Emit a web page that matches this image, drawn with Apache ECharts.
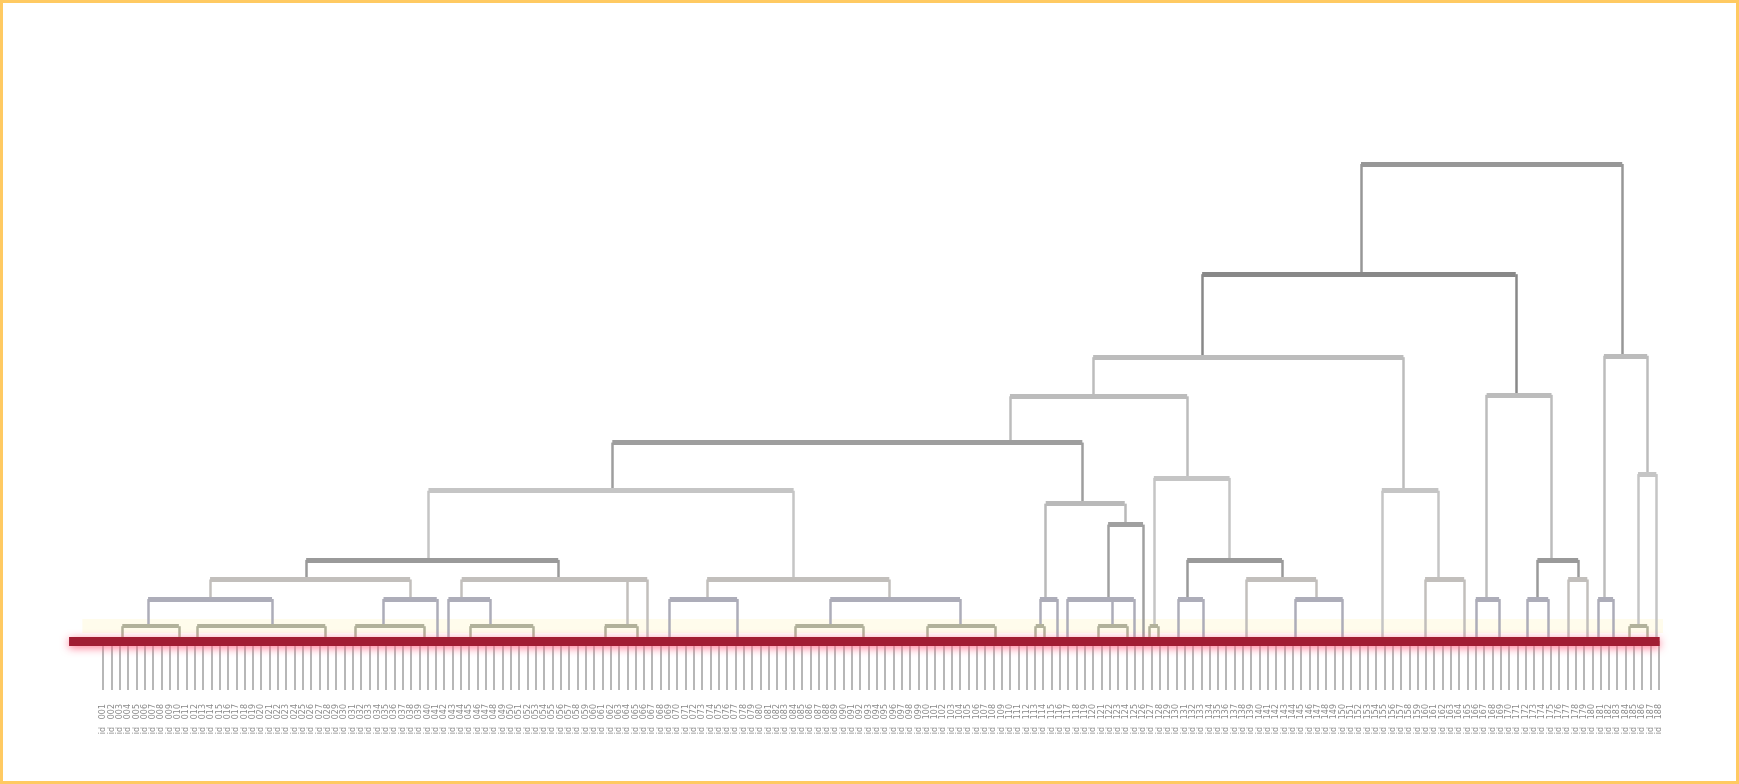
<!DOCTYPE html>
<html>
<head>
<meta charset="utf-8">
<script src="https://cdn.jsdelivr.net/npm/echarts@6/dist/echarts.min.js"></script>
<style>
html, body { margin: 0; padding: 0; background: #ffffff; }
#chart { position: absolute; left: 0; top: 0; width: 1739px; height: 784px; }
#frame { position: absolute; left: 0; top: 0; width: 1739px; height: 784px; box-sizing: border-box; border: 3px solid #FFCA62; pointer-events: none; }
</style>
</head>
<body>
<div id="chart"></div>
<div id="frame"></div>
<script>
// ---- DATA -------------------------------------------------------------
// Leaf labels, left to right (188 leaves)
const leafLabels = ('001 002 003 004 005 006 007 008 009 010 011 012 013 014 015 016 017 018 019 020 ' +
  '021 022 023 024 025 026 027 028 029 030 031 032 033 034 035 036 037 038 039 040 ' +
  '041 042 043 044 045 046 047 048 049 050 051 052 053 054 055 056 057 058 059 060 ' +
  '061 062 063 064 065 066 067 068 069 070 071 072 073 074 075 076 077 078 079 080 ' +
  '081 082 083 084 085 086 087 088 089 090 091 092 093 094 095 096 097 098 099 100 ' +
  '101 102 103 104 105 106 107 108 109 110 111 112 113 114 115 116 117 118 119 120 ' +
  '121 122 123 124 125 126 127 128 129 130 131 132 133 134 135 136 137 138 139 140 ' +
  '141 142 143 144 145 146 147 148 149 150 151 152 153 154 155 156 157 158 159 160 ' +
  '161 162 163 164 165 166 167 168 169 170 171 172 173 174 175 176 177 178 179 180 ' +
  '181 182 183 184 185 186 187 188').split(' ');

// Cut / baseline height of the dendrogram
const baselineHeight = 0;

// Dendrogram: [position along leaf axis (leaf index units), merge height, ...children]
// a child is either a sub-cluster (array) or a number = a cluster leg that reaches the baseline at that position
const dendrogram =
[166.9, 10.0,
  [151.2, 7.69,
    [132.1, 5.95,
      [119.0, 5.13,
        [109.0, 4.16,
          [61.2, 3.15,
            [39.1, 1.70,
              [24.4, 1.29,
                [12.85, 0.88,
                  [5.4, 0.31, 2.3, 9.1],
                  [20.3, 0.31, 11.3, 26.7]],
                [36.9, 0.88,
                  [33.7, 0.31, 30.3, 38.6],
                  40.1]],
              [54.7, 1.29,
                [43.1, 0.88, 41.5, [46.5, 0.31, 44.1, 51.7]],
                [63.0, 0.31, 60.3, 64.2],
                65.4]],
            [83.0, 1.29,
              [72.6, 0.88, 68.1, 76.2],
              [94.5, 0.88,
                [87.4, 0.31, 83.2, 91.4],
                [103.0, 0.31, 99.1, 107.2]]]],
          [117.7, 2.88,
            [113.3, 0.88, [112.6, 0.31, 112.1, 113.1], 114.7],
            [122.8, 2.44,
              [120.8, 0.88, 115.9, [121.3, 0.31, 119.6, 123.1], 123.9],
              125.0]]],
        [130.3, 3.42,
          [126.3, 0.31, 125.8, 126.8],
          [135.4, 1.70,
            [130.3, 0.88, 129.2, 132.2],
            [141.7, 1.29, 137.4, [145.8, 0.88, 143.3, 149.0]]]]],
      [156.3, 3.15,
        153.7,
        [160.5, 1.29, 158.9, 163.6]]],
    [169.8, 5.16,
      [166.3, 0.88, 165.0, 167.8],
      [174.1, 1.70,
        [172.4, 0.88, 171.2, 173.7],
        [177.3, 1.29, 176.1, 178.4]]]],
  [182.6, 5.98,
    [180.4, 0.88, 179.7, 181.5],
    [185.6, 3.50, [184.5, 0.31, 183.5, 185.6], 186.7]]];

// ---- STYLE ------------------------------------------------------------
function levelColor(h) {
  if (h >= 9) return '#979797';
  if (h >= 7) return '#888888';
  if (h >= 4.8) return '#bcbcbc';
  if (h >= 4) return '#9e9e9e';
  if (h >= 3.0) return '#c5c5c5';
  if (h >= 2.7) return '#b9b9b9';
  if (h >= 2.2) return '#a0a0a0';
  if (h >= 1.5) return '#9a9a9a';
  if (h >= 1.1) return '#c2bfbc';
  if (h >= 0.6) return '#adadb9';
  return '#b2b29b';
}
function barWidth(h) { return h >= 0.6 ? 5 : 4; }

// ---- BUILD SEGMENTS (data space) ---------------------------------------
const segments = [];
function collect(node) {
  const x = node[0], h = node[1], kids = node.slice(2);
  const pos = kids.map(k => Array.isArray(k) ? { x: k[0], h: k[1] } : { x: k, h: baselineHeight });
  const xs = pos.map(p => p.x);
  const c = levelColor(h);
  pos.forEach(p => segments.push({ coords: [[p.x, h], [p.x, p.h]], lineStyle: { color: c, width: 2.5 } }));
  segments.push({ coords: [[Math.min.apply(null, xs), h], [Math.max.apply(null, xs), h]], lineStyle: { color: c, width: barWidth(h) } });
  kids.forEach(k => { if (Array.isArray(k)) collect(k); });
}
collect(dendrogram);

const nLeaves = leafLabels.length;

const chart = echarts.init(document.getElementById('chart'), null, { renderer: 'canvas' });
chart.setOption({
  animation: false,
  backgroundColor: '#ffffff',
  grid: { left: 99, right: 76, top: 164, bottom: 143, containLabel: false, outerBoundsMode: 'none' },
  xAxis: [
    { type: 'value', min: -0.5, max: nLeaves - 0.5, show: false },
    {
      type: 'category', data: leafLabels, boundaryGap: true, position: 'bottom',
      axisLine: { show: false },
      axisTick: { show: true, alignWithLabel: true, interval: 0, length: 49, lineStyle: { color: '#a0a0a0', width: 1.5 } },
      axisLabel: {
        interval: 0, rotate: 90, margin: 63, fontSize: 8, color: '#8a8a8a',
        fontFamily: 'DejaVu Sans', formatter: v => 'id   ' + v
      },
      splitLine: { show: false }
    }
  ],
  yAxis: { type: 'value', min: 0, max: 10, show: false },
  series: [
    {
      type: 'lines', coordinateSystem: 'cartesian2d', xAxisIndex: 0, yAxisIndex: 0,
      silent: true, clip: false, z: 1,
      data: [{ coords: [[-2.5, 0.33], [nLeaves - 0.5, 0.33]] }],
      lineStyle: { color: '#fffcec', width: 14, opacity: 1 }
    },
    {
      type: 'lines', coordinateSystem: 'cartesian2d', xAxisIndex: 0, yAxisIndex: 0,
      silent: true, clip: false, z: 3,
      data: segments,
      lineStyle: { opacity: 1, cap: 'butt' }
    },
    {
      type: 'lines', coordinateSystem: 'cartesian2d', xAxisIndex: 0, yAxisIndex: 0,
      silent: true, clip: false, z: 5,
      data: [{ coords: [[-4.1, baselineHeight], [nLeaves - 0.9, baselineHeight]] }],
      lineStyle: { color: '#a11d33', width: 9, opacity: 1, shadowBlur: 9, shadowColor: 'rgba(255,105,135,0.9)', shadowOffsetY: 2 }
    }
  ]
});
</script>
</body>
</html>
